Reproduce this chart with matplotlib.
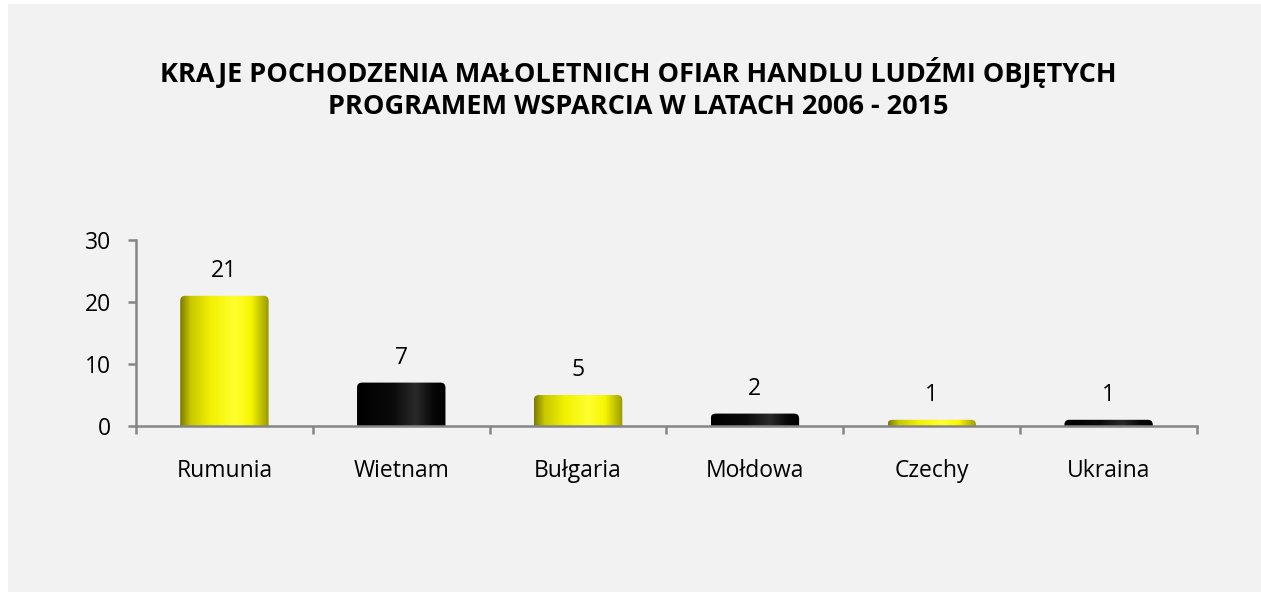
import numpy as np
import matplotlib
matplotlib.use("Agg")
import matplotlib.pyplot as plt
from matplotlib.patches import Rectangle, FancyBboxPatch
from matplotlib.colors import to_rgb

categories = ["Rumunia", "Wietnam", "Bułgaria", "Mołdowa", "Czechy", "Ukraina"]
values = [21, 7, 5, 2, 1, 1]
bar_styles = ["yellow", "black", "yellow", "black", "yellow", "black"]
title = ("KRAJE POCHODZENIA MAŁOLETNICH OFIAR HANDLU LUDŹMI OBJĘTYCH\n"
         "PROGRAMEM WSPARCIA W LATACH 2006 - 2015")
y_ticks = [0, 10, 20, 30]

plt.rcParams["font.family"] = ["Open Sans", "DejaVu Sans"]

W, H = 1261, 592
fig = plt.figure(figsize=(W / 100, H / 100), dpi=100, facecolor="white")
fig.patches.append(Rectangle((8 / W, 0), 1, 1 - 4 / H, transform=fig.transFigure,
                             facecolor="#f2f2f2", edgecolor="none", zorder=-5))

left, right = 136 / W, 1197 / W
bottom, top = 1 - 426 / H, 1 - 240 / H
ax = fig.add_axes([left, bottom, right - left, top - bottom])
ax.set_facecolor("none")
ax.set_xlim(-0.5, len(categories) - 0.5)
ax.set_ylim(0, 30)

# cylinder-like shading across the bar width
stops = {
    "yellow": [(0.0, "#7a7a00"), (0.12, "#c8c800"), (0.35, "#f2f200"),
               (0.62, "#ffff30"), (0.8, "#f6f600"), (1.0, "#9a9a00")],
    "black": [(0.0, "#000000"), (0.4, "#0a0a0a"), (0.66, "#2a2a2a"),
              (0.85, "#080808"), (1.0, "#000000")],
}

def gradient(style, n=200):
    pos = [p for p, _ in stops[style]]
    cols = np.array([to_rgb(c) for _, c in stops[style]])
    t = np.linspace(0, 1, n)
    rgb = np.stack([np.interp(t, pos, cols[:, k]) for k in range(3)], axis=-1)
    return rgb[np.newaxis, :, :]

FS = 16.5
bw = 0.5
px_x = len(categories) / (W * (right - left))
px_y = 30 / (H * (top - bottom))
aspect = px_y / px_x
for i, (v, s) in enumerate(zip(values, bar_styles)):
    x0 = i - bw / 2
    clip = FancyBboxPatch((x0, -2), bw, v + 2,
                          boxstyle=f"round,pad=0,rounding_size={5 * px_x}",
                          mutation_aspect=aspect, transform=ax.transData,
                          facecolor="none", edgecolor="none")
    ax.add_patch(clip)
    im = ax.imshow(gradient(s), extent=[x0, x0 + bw, -2, v], aspect="auto",
                   interpolation="bilinear", zorder=2)
    im.set_clip_path(clip)
    ax.annotate(str(v), xy=(i, v), xytext=(0, 19 * 0.72), textcoords="offset points",
                ha="center", va="baseline", fontsize=FS, color="black")

ax.set_xlim(-0.5, len(categories) - 0.5)
ax.set_ylim(0, 30)

axis_color = "#868686"
for side in ["top", "right"]:
    ax.spines[side].set_visible(False)
for side in ["left", "bottom"]:
    ax.spines[side].set_color(axis_color)
    ax.spines[side].set_linewidth(1.8)
    ax.spines[side].set_zorder(3)

ax.set_yticks(y_ticks)
ax.set_yticklabels([str(t) for t in y_ticks], fontsize=FS)
ax.tick_params(axis="y", length=6, width=1.8, color=axis_color, pad=12)

ax.set_xticks(np.arange(-0.5, len(categories)))
ax.set_xticklabels([])
ax.tick_params(axis="x", length=6, width=1.8, color=axis_color)

# category names below the axis
for i, name in enumerate(categories):
    ax.annotate(name, xy=(i, 0), xycoords=("data", "axes fraction"),
                xytext=(0, -51 * 0.72), textcoords="offset points",
                ha="center", va="baseline", fontsize=FS, color="black")

fig.text(638 / W, 1 - 88 / H, title, ha="center", va="center",
         fontsize=19.5, fontweight="bold", linespacing=1.3, color="black")

fig.savefig("out.png", dpi=100, facecolor=fig.get_facecolor())
